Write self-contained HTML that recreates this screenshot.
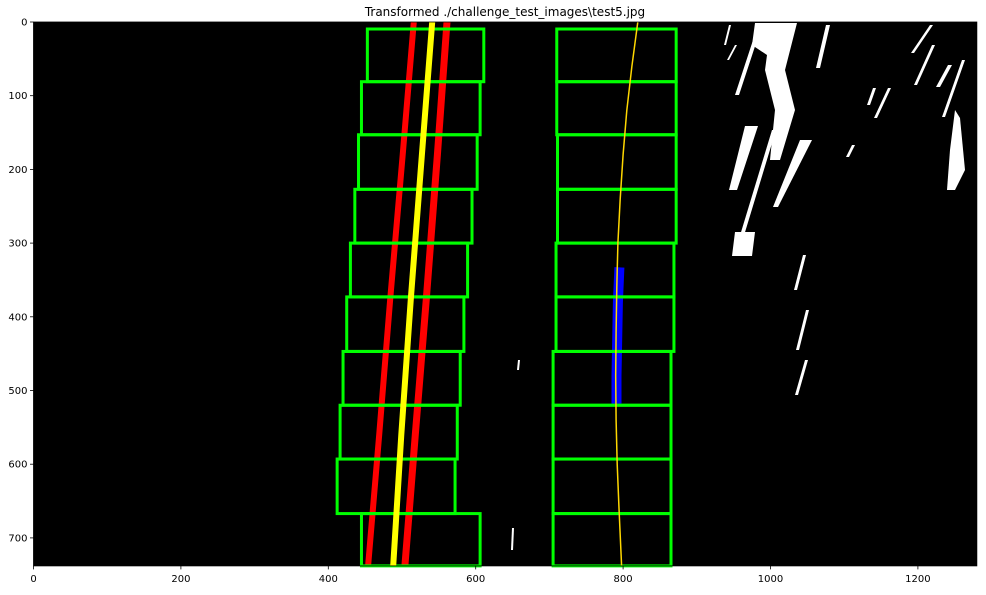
<!DOCTYPE html>
<html><head><meta charset="utf-8"><style>
body{margin:0;background:#fff;}
svg text{font-family:"DejaVu Sans","Liberation Sans",sans-serif;font-size:10px;fill:#000;}
</style></head><body>
<svg id="c" width="986" height="590" xmlns="http://www.w3.org/2000/svg">
<text x="505" y="16" text-anchor="middle" style="font-size:12px">Transformed ./challenge_test_images\test5.jpg</text>
<g id="plot"></g>
<g id="axes"></g>
</svg>
<script>
const xTicks=[0,200,400,600,800,1000,1200];
const yTicks=[0,100,200,300,400,500,600,700];
const winTops=[9.5,81,153,227,300,373,447,520,593,667];
const winBottom=738;
const leftWinX0=[453,445,441,436,430,425,420,416,412,445];
const leftWinX1=[611,606,602,595,589,584,579,575,572,606];
const rightWinX0=[710,710,711,711,709,709,705,705,705,705];
const rightWinX1=[872,872,872,872,869,869,865,865,865,865];
const fitY=[0,180,376,560,738];
const fitX=[541,527,512,499,488];
const redLY=[0,180,376,560,738];
const redLX=[516,501,484,469,454];
const redRY=[0,180,376,560,738];
const redRX=[561,548,533,518,504];
const rightFitY=[0,60,120,180,240,300,360,420,480,540,600,660,738];
const rightFitX=[820,812,805,800,796,793,791.5,790.5,790,790.5,792,794.5,798];
const blueY=[333,380,430,480,518];
const blueX=[795,793,792,791,791];

const X0=33.5,Y0=22,S=0.737;
const xs=v=>X0+v*S, ys=v=>Y0+v*S;
const NS="http://www.w3.org/2000/svg";
const plot=document.getElementById('plot'), axes=document.getElementById('axes');
function mk(tag,attrs,parent){const e=document.createElementNS(NS,tag);for(const k in attrs)e.setAttribute(k,attrs[k]);parent.appendChild(e);return e;}

const bg=mk('rect',{x:xs(0),y:ys(0),width:1280*S,height:winBottom*S,fill:'#000'},plot);



const streaks=["755,23 797,23 785,70 795,110 780,160 770,160 775,110 765,70 767,55 752,45","745,126 758,126 737,190 729,190","772,130 776,130 739,252 735,252","800,140 812,140 778,207 773,207","735,232 755,232 752,256 732,256","729,25 731,25 726,45 724,45","735,45 737,45 729,60 727,60","758,25 762,25 739,95 735,95","826,25 830,25 820,68 816,68","930,25 933,25 914,53 911,53","932,45 935,45 917,85 914,85","948,65 952,65 940,87 936,87","962,60 965,60 945,117 942,117","955,110 960,118 965,170 955,190 947,190 950,150","873,88 876,88 870,105 867,105","888,88 891,88 877,118 874,118","852,145 855,145 849,157 846,157","803,255 806,255 797,290 794,290","806,310 809,310 799,350 796,350","805,360 808,360 798,395 795,395","518,360 520,360 519,370 517,370","512,528 514,528 513,550 511,550"];
streaks.forEach(p=>{const e=mk('polygon',{points:p,fill:'#fff'},plot);

});

function line(X,Y,color,w,name){
  const d=X.map((x,i)=>(i?'L':'M')+xs(x).toFixed(1)+','+ys(Y[i]).toFixed(1)).join(' ');
  const e=mk('path',{d:d,stroke:color,'stroke-width':w,fill:'none','stroke-linecap':'butt','stroke-linejoin':'round'},plot);
  
  
}
line(redLX,redLY,'#f00',6,'left-lane-pixels-left');
line(redRX,redRY,'#f00',7,'left-lane-pixels-right');
line(blueX,blueY,'#00f',10,'right-lane-pixels');

for(let i=0;i<winTops.length;i++){
  const t=winTops[i], b=(i+1<winTops.length?winTops[i+1]:winBottom);
  const r1=mk('rect',{x:xs(leftWinX0[i]),y:ys(t),width:(leftWinX1[i]-leftWinX0[i])*S,height:(b-t)*S,fill:'none',stroke:'#0f0','stroke-width':3},plot);
  
  
  const r2=mk('rect',{x:xs(rightWinX0[i]),y:ys(t),width:(rightWinX1[i]-rightWinX0[i])*S,height:(b-t)*S,fill:'none',stroke:'#0f0','stroke-width':3},plot);
  
  
}
line(fitX,fitY,'#ff0',6,'left-lane-fit');
line(rightFitX,rightFitY,'#ffd700',1.5,'right-lane-fit');

const fr=mk('rect',{x:xs(0),y:ys(0),width:1280*S,height:winBottom*S,fill:'none',stroke:'#000','stroke-width':0.8},axes);


xTicks.forEach(v=>{
  const t=mk('line',{x1:xs(v),x2:xs(v),y1:ys(winBottom),y2:ys(winBottom)+3.5,stroke:'#000','stroke-width':0.8},axes);
  
  
  const l=mk('text',{x:xs(v),y:ys(winBottom)+16,'text-anchor':'middle'},axes);l.textContent=v;
  
  
});
yTicks.forEach(v=>{
  const t=mk('line',{x1:xs(0)-3.5,x2:xs(0),y1:ys(v),y2:ys(v),stroke:'#000','stroke-width':0.8},axes);
  
  
  const l=mk('text',{x:xs(0)-6,y:ys(v)+3.5,'text-anchor':'end'},axes);l.textContent=v;
  
  
});
</script>
</body></html>
